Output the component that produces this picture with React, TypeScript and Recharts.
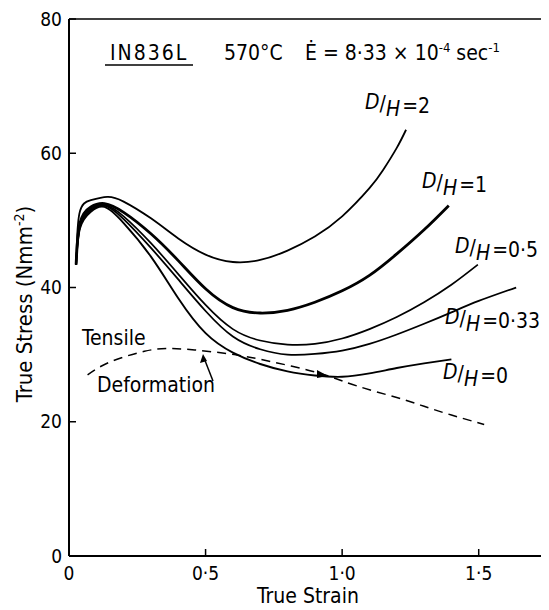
import React from 'react';
import { LineChart, Line, XAxis, YAxis, Label, Customized } from 'recharts';

const FONT = "'DejaVu Sans Condensed', 'DejaVu Sans', sans-serif";

// axis ticks
const strainTicks = [0, 0.5, 1, 1.5];
const strainTickLabels = ['0', '0·5', '1·0', '1·5'];
const stressTicks = [0, 20, 40, 60, 80];

// [true strain, true stress]
const dh2 = [
  [0.026, 43.4], [0.038, 51], [0.08, 53], [0.14, 53.5], [0.2, 52.8], [0.3, 50.3],
  [0.4, 47.3], [0.5, 44.9], [0.6, 43.8], [0.7, 44.1], [0.8, 45.5], [0.9, 47.6],
  [1.0, 50.6], [1.1, 54.8], [1.15, 57.5], [1.2, 60.8], [1.234, 63.5],
];
const dh1 = [
  [0.026, 43.4], [0.04, 49.6], [0.08, 52], [0.13, 52.5], [0.2, 51.2], [0.3, 48],
  [0.4, 44], [0.5, 39.8], [0.6, 37], [0.7, 36.2], [0.8, 36.6], [0.9, 37.8],
  [1.0, 39.5], [1.1, 41.8], [1.2, 45], [1.3, 48.6], [1.39, 52.2],
];
const dh05 = [
  [0.026, 43.4], [0.04, 49.2], [0.08, 51.7], [0.13, 52.3], [0.2, 50.6], [0.3, 46.6],
  [0.4, 42], [0.5, 37.4], [0.6, 33.8], [0.7, 32.1], [0.8, 31.5], [0.9, 31.6],
  [1.0, 32.4], [1.1, 33.8], [1.2, 35.6], [1.3, 37.8], [1.4, 40.4], [1.497, 43.4],
];
const dh033 = [
  [0.026, 43.4], [0.04, 49], [0.08, 51.5], [0.13, 52.2], [0.2, 50.2], [0.3, 45.9],
  [0.4, 41.2], [0.5, 36.5], [0.6, 32.7], [0.7, 30.8], [0.8, 30], [0.9, 30.1],
  [1.0, 30.6], [1.1, 31.6], [1.2, 33], [1.3, 34.6], [1.4, 36.3], [1.5, 38], [1.637, 40],
];
const dh0 = [
  [0.026, 43.4], [0.04, 48.8], [0.08, 51.3], [0.13, 52], [0.2, 49.6], [0.3, 44.6],
  [0.4, 38.4], [0.5, 33.2], [0.6, 30.3], [0.7, 28.6], [0.8, 27.5], [0.9, 26.9],
  [1.0, 26.7], [1.1, 27.2], [1.2, 28], [1.3, 28.7], [1.4, 29.3],
];
const tensile = [
  [0.068, 27], [0.15, 28.9], [0.276, 30.5], [0.36, 30.9], [0.46, 30.7], [0.605, 30],
  [0.7, 29.3], [0.813, 28.3], [0.935, 27], [1.057, 25.3], [1.2, 23.6], [1.3, 22.3],
  [1.4, 21], [1.52, 19.6],
];

const toPts = (a: number[][]) => a.map(([strain, stress]) => ({ strain, stress }));

const curves = [
  { key: 'dh2', data: dh2, w: 1.8 },
  { key: 'dh1', data: dh1, w: 2.8 },
  { key: 'dh05', data: dh05, w: 1.7 },
  { key: 'dh033', data: dh033, w: 1.8 },
  { key: 'dh0', data: dh0, w: 1.9 },
];

const txt = { fontFamily: FONT, fontSize: 21, fill: '#000' };

const DH = ({ x, y, v }: { x: number; y: number; v: string }) => (
  <text x={x} y={y} {...txt}>
    <tspan fontStyle="italic" dy={-4}>D</tspan>
    <tspan dy={2}>/</tspan>
    <tspan fontStyle="italic" dy={5}>H</tspan>
    <tspan dy={-3} dx={2}>={v}</tspan>
  </text>
);

const Notes = () => (
  <g>
    <text x={102} y={52} {...txt} letterSpacing={2}>IN836L</text>
    <line x1={97} y1={57} x2={185} y2={57} stroke="#000" strokeWidth={1.5} />
    <text x={216} y={52} {...txt}>570°C</text>
    <text x={297} y={52} {...txt}>
      Ė = 8·33 × 10<tspan dy={-8} fontSize={13}>-4</tspan>
      <tspan dy={8}> sec</tspan>
      <tspan dy={-8} fontSize={13}>-1</tspan>
    </text>
    <DH x={357} y={105} v="2" />
    <DH x={414} y={184} v="1" />
    <DH x={447} y={249} v="0·5" />
    <DH x={437} y={320} v="0·33" />
    <DH x={435} y={375} v="0" />
    <text x={74} y={337} {...txt}>Tensile</text>
    <text x={89} y={384} {...txt}>Deformation</text>
    <line x1={205} y1={373} x2={196} y2={350} stroke="#000" strokeWidth={1.5} />
    <polygon points="195,346 192,355 199,353" fill="#000" />
    <polygon points="320,368 309,362 309,370" fill="#000" />
  </g>
);

const YTitle = () => (
  <text x={24} y={296} transform="rotate(-90 24 296)" textAnchor="middle" {...txt} fontSize={22}>
    True Stress (Nmm<tspan dy={-8} fontSize={14}>-2</tspan>
    <tspan dy={8}>)</tspan>
  </text>
);

export default function App() {
  return (
    <LineChart width={541} height={600} margin={{ top: 10, right: 1, bottom: 0, left: 0 }} style={{ background: '#fff' }}>
      <XAxis
        dataKey="strain"
        type="number"
        domain={[0, 1.75]}
        ticks={strainTicks}
        tickFormatter={(v: number) => strainTickLabels[strainTicks.indexOf(v)]}
        height={52}
        tickSize={-7}
        tickMargin={18}
        allowDataOverflow
        axisLine={{ stroke: '#000', strokeWidth: 2 }}
        tickLine={{ stroke: '#000', strokeWidth: 1.5 }}
        tick={{ fill: '#000', fontSize: 19, fontFamily: FONT }}
      >
        <Label value="True Strain" position="insideBottom" offset={5} style={{ fontSize: 21, fontFamily: FONT, fill: '#000' }} />
      </XAxis>
      <XAxis
        xAxisId="top"
        orientation="top"
        type="number"
        domain={[0, 1.75]}
        ticks={[0.5, 1, 1.5]}
        height={1}
        tickSize={-7}
        tickFormatter={() => ''}
        axisLine={{ stroke: '#000', strokeWidth: 1.5 }}
        tickLine={{ stroke: '#000', strokeWidth: 1.5 }}
      />
      <YAxis
        type="number"
        domain={[0, 80]}
        ticks={stressTicks}
        width={61}
        tickSize={-7}
        tickMargin={14}
        axisLine={{ stroke: '#000', strokeWidth: 2 }}
        tickLine={{ stroke: '#000', strokeWidth: 1.5 }}
        tick={{ fill: '#000', fontSize: 19, fontFamily: FONT }}
      >
        <Label content={<YTitle />} />
      </YAxis>
      <YAxis
        yAxisId="r"
        orientation="right"
        type="number"
        domain={[0, 80]}
        ticks={[20, 40, 60]}
        width={1}
        tickSize={-7}
        tickFormatter={() => ''}
        axisLine={{ stroke: '#000', strokeWidth: 1.5 }}
        tickLine={{ stroke: '#000', strokeWidth: 1.5 }}
      />
      {curves.map((c) => (
        <Line
          key={c.key}
          data={toPts(c.data)}
          dataKey="stress"
          type="natural"
          stroke="#000"
          strokeWidth={c.w}
          dot={false}
          activeDot={false}
          isAnimationActive={false}
        />
      ))}
      <Line
        data={toPts(tensile)}
        dataKey="stress"
        type="natural"
        stroke="#000"
        strokeWidth={1.5}
        strokeDasharray="9 6"
        dot={false}
        activeDot={false}
        isAnimationActive={false}
      />
      <Customized component={Notes} />
    </LineChart>
  );
}
